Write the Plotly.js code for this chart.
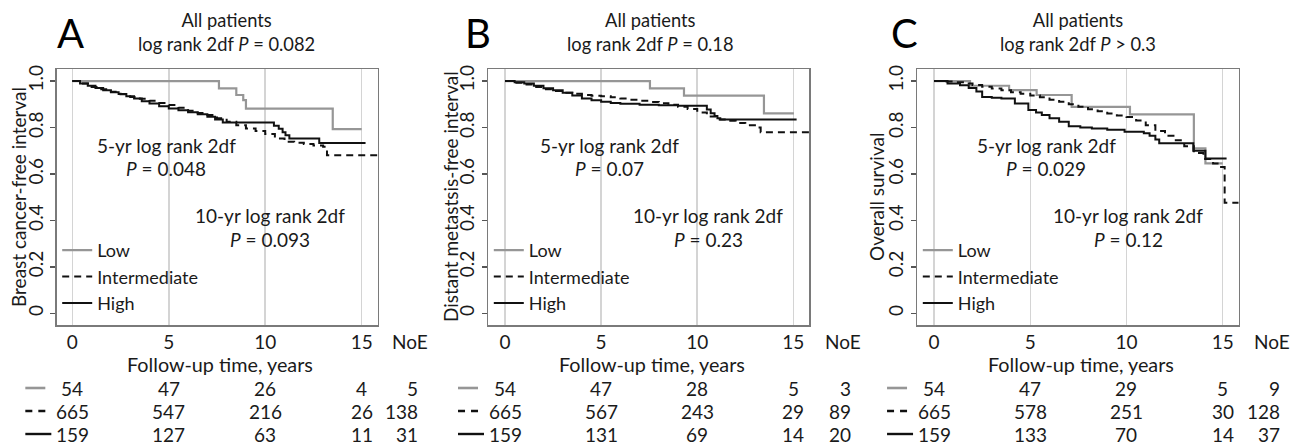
<!DOCTYPE html>
<html>
<head>
<meta charset="utf-8">
<script src="https://cdn.plot.ly/plotly-3.0.1.min.js"></script>
<style>html,body{margin:0;padding:0;background:#fff;}#chart{width:1300px;height:448px;}</style>
</head>
<body>
<div id="chart"></div>
<script>
// ---------- DATA ----------
const groupNames = ["Low", "Intermediate", "High"];
const panelLetters = ["A", "B", "C"];
const panelPvalues = ["<i>P</i> = 0.082", "<i>P</i> = 0.18", "<i>P</i> &gt; 0.3"];
const yTitles = ["Breast cancer-free interval", "Distant metastsis-free interval", "Overall survival"];
const p5yr = ["<i>P</i> = 0.048", "<i>P</i> = 0.07", "<i>P</i> = 0.029"];
const p10yr = ["<i>P</i> = 0.093", "<i>P</i> = 0.23", "<i>P</i> = 0.12"];
const xTickVals = [0, 5, 10, 15];
const yTickVals = [0, 0.2, 0.4, 0.6, 0.8, 1.0];
const yTickText = ["0", "0.2", "0.4", "0.6", "0.8", "1.0"];
const atRiskTimes = [0, 5, 10, 15];

// Panel A: breast cancer-free interval
const timeLowA = [0, 7.6, 8.5, 8.86, 9.0, 13.5, 15.0];
const survLowA = [1, 0.969, 0.94, 0.918, 0.881, 0.793, 0.793];
const timeIntA = [0, 0.5, 1, 1.5, 2, 2.5, 3, 3.5, 4, 4.5, 5, 5.5, 6, 6.5, 7, 7.5, 8, 8.5, 9, 9.5, 10, 10.5, 11, 11.5, 12, 12.5, 13, 13.2, 15.83];
const survIntA = [1, 0.99, 0.975, 0.965, 0.954, 0.943, 0.932, 0.924, 0.915, 0.906, 0.897, 0.885, 0.872, 0.863, 0.854, 0.84, 0.825, 0.81, 0.796, 0.785, 0.772, 0.753, 0.739, 0.734, 0.729, 0.723, 0.717, 0.681, 0.681];
const timeHighA = [0, 0.4, 0.8, 1.2, 1.6, 2.0, 2.4, 2.8, 3.2, 3.6, 4.0, 4.5, 5.0, 5.5, 6.0, 6.5, 7.0, 7.4, 7.8, 10.45, 10.7, 10.9, 11.05, 11.25, 12.8, 15.2];
const survHighA = [1, 0.99, 0.98, 0.97, 0.96, 0.952, 0.944, 0.935, 0.925, 0.913, 0.903, 0.892, 0.882, 0.874, 0.866, 0.857, 0.846, 0.835, 0.822, 0.808, 0.795, 0.78, 0.767, 0.753, 0.733, 0.733];

// Panel B: distant metastasis-free interval
const timeLowB = [0, 7.54, 9.31, 13.47, 15.03];
const survLowB = [1, 0.969, 0.937, 0.861, 0.861];
const timeIntB = [0, 0.5, 1, 1.5, 2, 2.5, 3, 3.5, 4, 4.5, 5, 5.5, 6, 6.5, 7, 7.5, 8, 8.5, 9, 9.5, 10, 10.5, 11, 11.5, 12, 12.5, 13, 13.3, 15.83];
const survIntB = [1, 0.993, 0.985, 0.975, 0.965, 0.957, 0.95, 0.945, 0.94, 0.937, 0.935, 0.93, 0.925, 0.92, 0.915, 0.91, 0.905, 0.898, 0.89, 0.88, 0.865, 0.848, 0.835, 0.829, 0.82, 0.81, 0.80, 0.78, 0.78];
const timeHighB = [0, 0.5, 1, 1.5, 2, 2.5, 3, 3.5, 4, 4.5, 5, 5.5, 6, 7, 8, 9, 10.5, 10.7, 10.9, 11.05, 11.2, 15.17];
const survHighB = [1, 0.995, 0.99, 0.98, 0.969, 0.96, 0.95, 0.938, 0.925, 0.918, 0.911, 0.906, 0.902, 0.898, 0.896, 0.894, 0.878, 0.862, 0.85, 0.84, 0.835, 0.835];

// Panel C: overall survival
const timeLowC = [0, 1.87, 3.9, 5.33, 7.15, 10.18, 13.5, 14.1, 15.0];
const survLowC = [1, 0.98, 0.961, 0.94, 0.889, 0.857, 0.71, 0.646, 0.646];
const timeIntC = [0, 0.5, 1, 1.5, 2, 2.5, 3, 3.5, 4, 4.5, 5, 5.5, 6, 6.5, 7, 7.5, 8, 8.5, 9, 9.5, 10, 10.5, 11, 11.5, 12, 12.5, 13, 13.5, 14, 14.5, 14.8, 15.1, 15.83];
const survIntC = [1, 0.998, 0.995, 0.99, 0.983, 0.976, 0.968, 0.96, 0.952, 0.945, 0.938, 0.93, 0.92, 0.911, 0.9, 0.89, 0.879, 0.87, 0.86, 0.852, 0.845, 0.83, 0.81, 0.785, 0.765, 0.745, 0.72, 0.69, 0.665, 0.645, 0.63, 0.476, 0.476];
const timeHighC = [0, 0.7, 1.35, 1.8, 2.2, 2.5, 3.0, 3.5, 4.2, 4.9, 5.3, 5.6, 6.0, 6.5, 7.0, 7.6, 8.2, 9.0, 9.9, 10.9, 11.2, 11.5, 11.7, 13.47, 14.1, 15.2];
const survHighC = [1, 0.99, 0.982, 0.97, 0.955, 0.932, 0.928, 0.925, 0.904, 0.875, 0.865, 0.854, 0.84, 0.825, 0.806, 0.80, 0.796, 0.79, 0.782, 0.775, 0.765, 0.748, 0.732, 0.70, 0.667, 0.667];

// Numbers at risk and number of events (NoE)
const riskLowA = [54, 47, 26, 4],   riskIntA = [665, 547, 216, 26], riskHighA = [159, 127, 63, 11];
const noeA = [5, 138, 31];
const riskLowB = [54, 47, 28, 5],   riskIntB = [665, 567, 243, 29], riskHighB = [159, 131, 69, 14];
const noeB = [3, 89, 20];
const riskLowC = [54, 47, 29, 5],   riskIntC = [665, 578, 251, 30], riskHighC = [159, 133, 70, 14];
const noeC = [9, 128, 37];

// ---------- BUILD ----------
const W = 1300, H = 448;
const FONT = 'Lato, "Open Sans", sans-serif';
const TXT = '#1a1a1a';
const colors = ['#969696', '#111111', '#111111'];
const dashes = ['solid', '7px,5px', 'solid'];
const widths = [2.2, 2, 2];

const panels = [
  {times: [timeLowA, timeIntA, timeHighA], survs: [survLowA, survIntA, survHighA], risk: [riskLowA, riskIntA, riskHighA], noe: noeA,
   px: [56.7, 377.7], range: [-0.81, 15.83], titleX: 226, letterX: 70, yTitleX: 19, t5: 4.86, t10: 10.25},
  {times: [timeLowB, timeIntB, timeHighB], survs: [survLowB, survIntB, survHighB], risk: [riskLowB, riskIntB, riskHighB], noe: noeB,
   px: [488.3, 809.3], range: [-0.87, 15.83], titleX: 650, letterX: 478, yTitleX: 451, t5: 5.41, t10: 10.56},
  {times: [timeLowC, timeIntC, timeHighC], survs: [survLowC, survIntC, survHighC], risk: [riskLowC, riskIntC, riskHighC], noe: noeC,
   px: [917.3, 1238.7], range: [-0.87, 15.83], titleX: 1078, letterX: 904, yTitleX: 877, t5: 5.82, t10: 10.08}
];

const yDomain = [1 - 325 / H, 1 - 69 / H];
const xp = v => v / W, yp = v => 1 - v / H;
const tToPx = (p, t) => p.px[0] + (t - p.range[0]) / (p.range[1] - p.range[0]) * (p.px[1] - p.px[0]);

const traces = [];
const layout = {
  width: W, height: H, autosize: false,
  margin: {l: 0, r: 0, t: 0, b: 0, pad: 0},
  paper_bgcolor: '#fff', plot_bgcolor: '#fff',
  font: {family: FONT, size: 19, color: TXT},
  showlegend: true,
  annotations: [], shapes: []
};

panels.forEach((p, i) => {
  const k = i === 0 ? '' : String(i + 1);
  const xa = 'x' + k, ya = 'y' + k;
  const legId = 'legend' + k;
  const x0px = tToPx(p, 0);
  for (let g = 0; g < 3; g++) {
    traces.push({
      type: 'scatter', mode: 'lines', x: p.times[g], y: p.survs[g],
      xaxis: xa, yaxis: ya, name: groupNames[g], legend: legId,
      line: {shape: 'hv', color: colors[g], width: widths[g], dash: dashes[g]},
      hoverinfo: 'skip'
    });
  }
  layout['xaxis' + k] = {
    domain: [xp(p.px[0]), xp(p.px[1])], range: p.range, anchor: ya,
    tickvals: xTickVals, ticks: '', showgrid: true, gridcolor: '#d4d4d4', gridwidth: 1.5,
    zeroline: false, showline: true, mirror: true, linecolor: '#7a7a7a', linewidth: 1.5,
    tickfont: {family: FONT, size: 19, color: TXT}, fixedrange: true
  };
  layout['yaxis' + k] = {
    domain: yDomain, range: [-0.05, 1.052], anchor: xa,
    tickvals: yTickVals, ticktext: yTickText, tickangle: -90,
    ticks: 'outside', ticklen: 5, tickwidth: 1.2, tickcolor: '#555',
    showgrid: false, zeroline: false, showline: true, mirror: true, linecolor: '#7a7a7a', linewidth: 1.5,
    tickfont: {family: FONT, size: 19, color: TXT}, fixedrange: true
  };
  layout[legId] = {
    x: xp(p.px[0] + 0.5), y: yp(232), xanchor: 'left', yanchor: 'top',
    bgcolor: 'rgba(0,0,0,0)', borderwidth: 0, traceorder: 'normal',
    font: {family: FONT, size: 18, color: TXT}, itemclick: false, itemdoubleclick: false
  };
  const A = layout.annotations;
  const ann = (x, y, text, size, extra) => Object.assign({xref: 'paper', yref: 'paper', x: xp(x), y: yp(y), text: text,
      showarrow: false, xanchor: 'center', yanchor: 'middle', font: {family: FONT, size: size, color: TXT}}, extra || {});
  A.push(ann(p.letterX, 33, panelLetters[i], 40, {font: {family: FONT, size: 40, color: '#000'}}));
  A.push(ann(p.titleX, 31.5, 'All patients<br>log rank 2df ' + panelPvalues[i], 18.3));
  A.push(ann(p.yTitleX, (69 + 325) / 2, yTitles[i], 19, {textangle: -90}));
  A.push(ann((p.px[0] + p.px[1]) / 2 + 3, 364, 'Follow-up time, years', 19.8));
  A.push(ann(x0px + 338, 341, 'NoE', 19));
  // in-plot log-rank texts
  const inPlot = (t, s, text) => ({xref: xa, yref: ya, x: t, y: s, text: text, showarrow: false,
      xanchor: 'center', yanchor: 'middle', font: {family: FONT, size: 19, color: TXT}});
  A.push(inPlot(p.t5, 0.7245, '5-yr log rank 2df'));
  A.push(inPlot(p.t5, 0.6255, p5yr[i]));
  A.push(inPlot(p.t10, 0.423, '10-yr log rank 2df'));
  A.push(inPlot(p.t10, 0.32, p10yr[i]));
  // numbers at risk table
  const rowY = [388, 411, 434];
  for (let g = 0; g < 3; g++) {
    p.risk[g].forEach((n, j) => {
      A.push(ann(tToPx(p, atRiskTimes[j]), rowY[g], String(n), 19));
    });
    A.push(ann(x0px + 348, rowY[g], String(p.noe[g]), 19, {xanchor: 'right'}));
    // key next to the row
    layout.shapes.push({type: 'line', xref: 'paper', yref: 'paper',
                        x0: xp(x0px - 47), x1: xp(x0px + (g === 2 ? -21 : -27)),
                        y0: yp(rowY[g]), y1: yp(rowY[g]),
                        line: {color: colors[g], width: widths[g] + 0.4, dash: g === 1 ? '7px,6px' : 'solid'}});
  }
});

Plotly.newPlot('chart', traces, layout, {staticPlot: true, displayModeBar: false});
</script>
</body>
</html>
